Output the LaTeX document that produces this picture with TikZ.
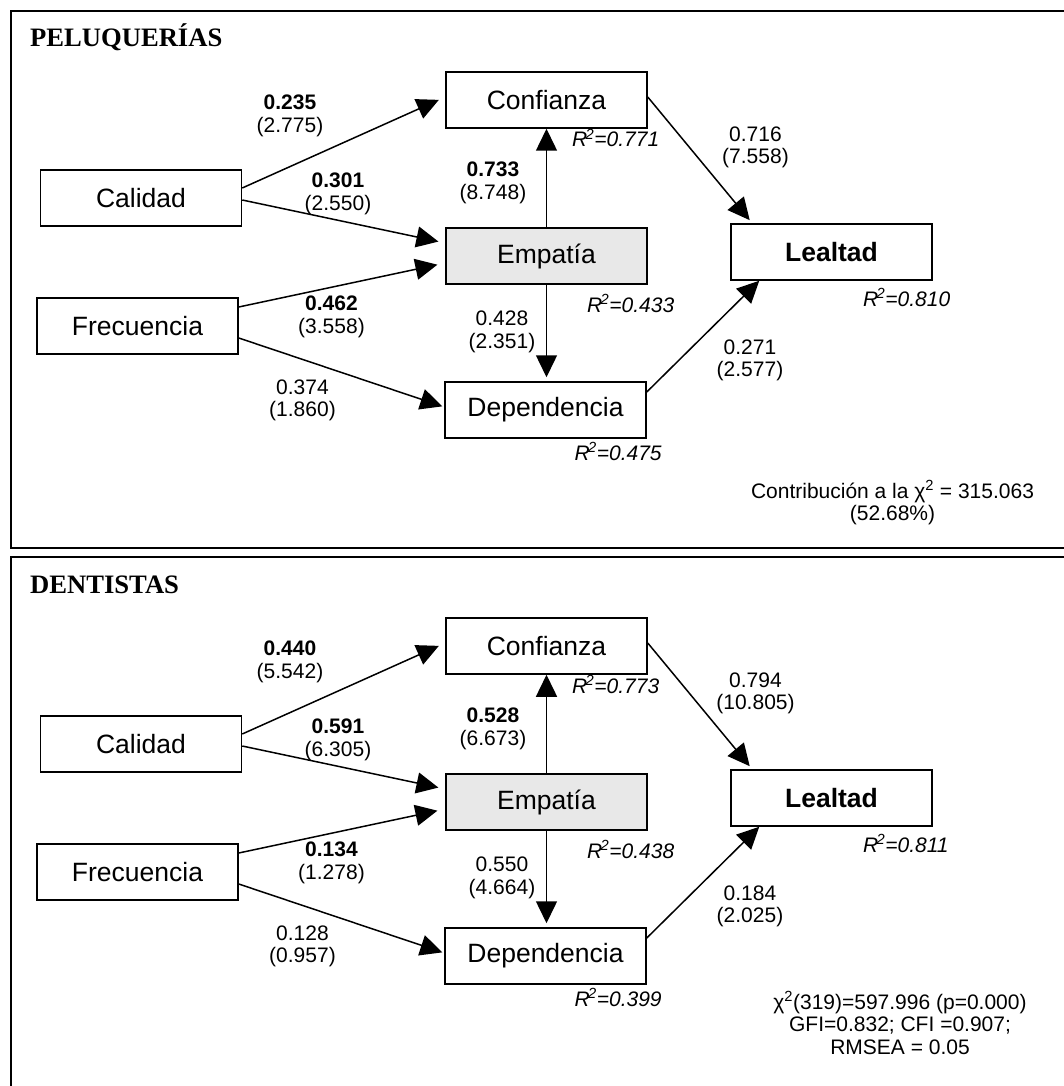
\documentclass[tikz,border=0pt]{standalone}
\usepackage{fontspec}
\setmainfont{Liberation Sans}
\newfontfamily\ttlfont{Liberation Serif}
\usetikzlibrary{arrows.meta}
\definecolor{empfill}{RGB}{232,232,232}
\newcommand\myboxfont{\fontsize{26.5}{30}\selectfont}
\newcommand\mylabfont{\fontsize{21}{22.5}\selectfont}
\begin{document}
\begin{tikzpicture}[x=1pt,y=-1pt,
  box/.style={draw, line width=1.5pt, minimum width=201pt, minimum height=56pt, inner sep=0pt, font=\myboxfont},
  lab/.style={font=\mylabfont, align=center, inner sep=0pt},
  rsq/.style={font=\mylabfont\itshape, inner sep=0pt, anchor=base west},
  ttl/.style={font={\ttlfont\bfseries\fontsize{26.6}{30}\selectfont}, inner sep=0pt, anchor=base west},
  conn/.style={line width=1.5pt, -{Triangle[length=22pt,width=21pt]}},
  panelframe/.style={line width=2pt}]
\useasboundingbox (0,0) rectangle (1064,1086);
\fill[white] (0,0) rectangle (1064,1086);
% frames
\draw[panelframe] (1064,11) -- (11,11) -- (11,548) -- (1064,548);
\draw[panelframe] (1064,557) -- (11,557) -- (11,1086);

% ---------------- PELUQUERIAS ----------------
\node[ttl] (ptitle) at (30,47) {PELUQUERÍAS};
\node[box] (pconf) at (546.5,100) {Confianza};
\node[box, fill=empfill] (pemp) at (546.5,256) {Empatía};
\node[box, font=\myboxfont\bfseries] (pleal) at (831.5,252) {Lealtad};
\node[box] (pcal) at (141,198) {Calidad};
\node[box] (pfre) at (137.5,326) {Frecuencia};
\node[box] (pdep) at (545.5,410) {Dependencia};

\draw[conn, shorten >=7pt] ([yshift=10pt]pcal.east) -- ([yshift=3pt]pconf.west);
\draw[conn, shorten >=7pt] ([yshift=-2pt]pcal.east) -- ([yshift=13pt]pemp.west);
\draw[conn, shorten >=8pt] ([yshift=19pt]pfre.east) -- ([yshift=-7pt]pemp.west);
\draw[conn, shorten >=2pt] ([yshift=-12pt]pfre.east) -- ([yshift=3pt]pdep.west);
\draw[conn] (pemp.north) -- (pconf.south);
\draw[conn, shorten >=4pt] (pemp.south) -- (pemp.south |- pdep.north);
\draw[conn, shorten >=4pt] ([yshift=3pt]pconf.east) -- ([xshift=22pt]pleal.north west);
\draw[conn] ([yshift=18pt]pdep.east) -- ([xshift=29pt]pleal.south west);

\node[lab] (pl1) at (290,116) {\textbf{0.235}\\(2.775)};
\node[lab] (pl2) at (338,194) {\textbf{0.301}\\(2.550)};
\node[lab] (pl3) at (493,183) {\textbf{0.733}\\(8.748)};
\node[lab] (pl4) at (755.5,147.5) {0.716\\(7.558)};
\node[lab] (pl5) at (331.5,317) {\textbf{0.462}\\(3.558)};
\node[lab] (pl6) at (502,332) {0.428\\(2.351)};
\node[lab] (pl7) at (302.5,400.5) {0.374\\(1.860)};
\node[lab] (pl8) at (750,360.5) {0.271\\(2.577)};
\node[rsq] (pr1) at (572,147) {R\kern-0.08em\textsuperscript{2}=0.771};
\node[rsq] (pr2) at (587,312) {R\kern-0.08em\textsuperscript{2}=0.433};
\node[rsq] (pr3) at (574.5,460) {R\kern-0.08em\textsuperscript{2}=0.475};
\node[rsq] (pr4) at (863,306) {R\kern-0.08em\textsuperscript{2}=0.810};
\node[lab] (pchi) at (892.5,503) {Contribución a la χ\textsuperscript{2} = 315.063\\(52.68\%)};

% ---------------- DENTISTAS ----------------
\begin{scope}[yshift=-546pt]
\node[ttl] (dtitle) at (30,47) {DENTISTAS};
\node[box] (dconf) at (546.5,100) {Confianza};
\node[box, fill=empfill] (demp) at (546.5,256) {Empatía};
\node[box, font=\myboxfont\bfseries] (dleal) at (831.5,252) {Lealtad};
\node[box] (dcal) at (141,198) {Calidad};
\node[box] (dfre) at (137.5,326) {Frecuencia};
\node[box] (ddep) at (545.5,410) {Dependencia};

\draw[conn, shorten >=7pt] ([yshift=10pt]dcal.east) -- ([yshift=3pt]dconf.west);
\draw[conn, shorten >=7pt] ([yshift=-2pt]dcal.east) -- ([yshift=13pt]demp.west);
\draw[conn, shorten >=8pt] ([yshift=19pt]dfre.east) -- ([yshift=-7pt]demp.west);
\draw[conn, shorten >=2pt] ([yshift=-12pt]dfre.east) -- ([yshift=3pt]ddep.west);
\draw[conn] (demp.north) -- (dconf.south);
\draw[conn, shorten >=4pt] (demp.south) -- (demp.south |- ddep.north);
\draw[conn, shorten >=4pt] ([yshift=3pt]dconf.east) -- ([xshift=22pt]dleal.north west);
\draw[conn] ([yshift=18pt]ddep.east) -- ([xshift=29pt]dleal.south west);

\node[lab] (dl1) at (290,116) {\textbf{0.440}\\(5.542)};
\node[lab] (dl2) at (338,194) {\textbf{0.591}\\(6.305)};
\node[lab] (dl3) at (493,183) {\textbf{0.528}\\(6.673)};
\node[lab] (dl4) at (755.5,147.5) {0.794\\(10.805)};
\node[lab] (dl5) at (331.5,317) {\textbf{0.134}\\(1.278)};
\node[lab] (dl6) at (502,332) {0.550\\(4.664)};
\node[lab] (dl7) at (302.5,400.5) {0.128\\(0.957)};
\node[lab] (dl8) at (750,360.5) {0.184\\(2.025)};
\node[rsq] (dr1) at (572,147) {R\kern-0.08em\textsuperscript{2}=0.773};
\node[rsq] (dr2) at (587,312) {R\kern-0.08em\textsuperscript{2}=0.438};
\node[rsq] (dr3) at (574.5,460) {R\kern-0.08em\textsuperscript{2}=0.399};
\node[rsq] (dr4) at (863,306) {R\kern-0.08em\textsuperscript{2}=0.811};
\node[lab] (dstat) at (900,477) {χ\textsuperscript{2}(319)=597.996 (p=0.000)\\GFI=0.832; CFI =0.907;\\RMSEA = 0.05};
\end{scope}
\end{tikzpicture}
\end{document}
